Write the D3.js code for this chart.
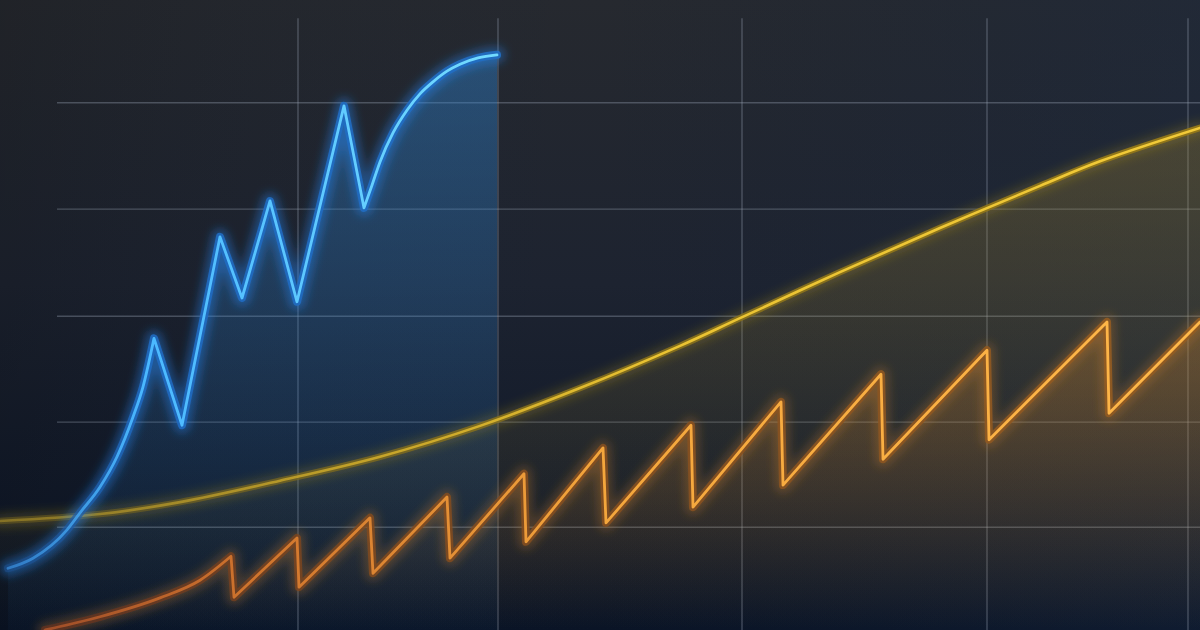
<!DOCTYPE html>
<html>
<head>
<meta charset="utf-8">
<script src="https://cdn.jsdelivr.net/npm/d3@7"></script>
<style>
  html, body { margin: 0; padding: 0; background: #1a1f28; }
  svg { display: block; }
</style>
</head>
<body>
<svg id="chart" width="1200" height="630"></svg>
<script>
// ---- data (x: 0..120 units, y: 0..100 units) ----
const blueX = [0.8, 3.3, 6.7, 8.0, 10.0, 11.7, 13.3, 14.3, 15.4, 18.2, 22.0, 24.2, 27.0, 29.7, 34.4, 36.4, 37.2, 38.0, 39.3, 40.7, 42.0, 43.3, 44.7, 46.0, 47.8, 49.7];
const blueY = [9.8, 11.4, 15.9, 18.6, 22.7, 27.5, 33.8, 38.6, 46.3, 32.5, 62.4, 52.7, 68.1, 52.1, 83.2, 67.0, 70.6, 74.3, 78.9, 82.5, 85.1, 87.0, 88.7, 89.8, 90.8, 91.3];
// indices where the blue line has sharp corners (zig-zag part)
const blueSharp = [8, 15];

const yellowX = [0, 10, 18, 28, 38, 48, 58, 68, 74, 84, 94, 104, 110, 120];
const yellowY = [17.3, 18.4, 20.3, 23.7, 27.5, 32.4, 38.4, 45.1, 49.5, 56.8, 63.8, 70.5, 74.4, 79.7];

const orangeX = [4.5, 10, 16, 20, 23.1, 23.4, 29.7, 29.9, 37.0, 37.3, 44.7, 45.0, 52.4, 52.6, 60.3, 60.6, 69.1, 69.3, 78.1, 78.3, 88.1, 88.3, 98.7, 98.9, 110.7, 110.9, 120];
const orangeY = [0, 2.1, 5.1, 7.9, 11.7, 5.2, 14.6, 6.8, 17.8, 9.0, 21.1, 11.4, 24.8, 14.0, 28.9, 17.0, 32.5, 19.5, 36.2, 23.0, 40.6, 27.1, 44.4, 30.2, 48.9, 34.4, 48.9];
const orangeSharp = [4, 26];

const gridX = [29.8, 49.8, 74.2, 98.7, 118.8];
const gridY = [83.7, 66.8, 49.8, 33.0, 16.3];

// ---- setup ----
const W = 1200, H = 630;
const svg = d3.select("#chart");
const x = d3.scaleLinear().domain([0, 120]).range([0, W]);
const y = d3.scaleLinear().domain([0, 100]).range([H, 0]);

const zip = (xs, ys) => xs.map((v, i) => ({x: v, y: ys[i]}));
const blue = zip(blueX, blueY), yellow = zip(yellowX, yellowY), orange = zip(orangeX, orangeY);

const defs = svg.append("defs");

const bg = defs.append("linearGradient").attr("id", "bg").attr("x1", 0).attr("y1", 0).attr("x2", 0).attr("y2", 1);
bg.append("stop").attr("offset", "0%").attr("stop-color", "#26292f");
bg.append("stop").attr("offset", "45%").attr("stop-color", "#1d2330");
bg.append("stop").attr("offset", "100%").attr("stop-color", "#0a1426");
const bg2 = defs.append("linearGradient").attr("id", "bg2").attr("x1", 0).attr("y1", 0).attr("x2", 1).attr("y2", 0);
bg2.append("stop").attr("offset", "0%").attr("stop-color", "#000000").attr("stop-opacity", 0.15);
bg2.append("stop").attr("offset", "50%").attr("stop-color", "#16243a").attr("stop-opacity", 0.0);
bg2.append("stop").attr("offset", "100%").attr("stop-color", "#1a2a44").attr("stop-opacity", 0.35);

function vgrad(id, color, top, bottom, y1, y2) {
  const g = defs.append("linearGradient").attr("id", id).attr("gradientUnits", "userSpaceOnUse")
    .attr("x1", 0).attr("x2", 0).attr("y1", y1).attr("y2", y2);
  g.append("stop").attr("offset", "0%").attr("stop-color", color).attr("stop-opacity", top);
  g.append("stop").attr("offset", "100%").attr("stop-color", color).attr("stop-opacity", bottom);
}
vgrad("blueArea", "#2f86d6", 0.42, 0.03, 50, 630);
vgrad("yellowArea", "#b8952e", 0.28, 0.0, 120, 630);
vgrad("orangeArea", "#d98a2c", 0.32, 0.0, 320, 630);

function hgrad(id, stops) {
  const g = defs.append("linearGradient").attr("id", id).attr("gradientUnits", "userSpaceOnUse")
    .attr("x1", 0).attr("x2", W).attr("y1", 0).attr("y2", 0);
  stops.forEach(s => g.append("stop").attr("offset", s[0]).attr("stop-color", s[1]).attr("stop-opacity", s[2]));
}
hgrad("blueInner", [["0%", "#3a8fe0", 0.65], ["12%", "#4ab8ff", 1], ["40%", "#72daff", 1], ["100%", "#72daff", 1]]);
hgrad("blueOuter", [["0%", "#1b4f8e", 0.5], ["12%", "#1f6ac0", 0.9], ["100%", "#2476cc", 0.9]]);
hgrad("yellowInner", [["0%", "#b89a2a", 0.5], ["30%", "#d2ad2a", 0.85], ["55%", "#eac332", 1], ["100%", "#f2ca38", 1]]);
hgrad("yellowOuter", [["0%", "#6e5e1e", 0.5], ["40%", "#86701c", 0.85], ["100%", "#947818", 0.95]]);
hgrad("orangeInner", [["0%", "#b0502a", 0.7], ["20%", "#d8782e", 0.9], ["50%", "#f4a63c", 1], ["100%", "#ffb84a", 1]]);
hgrad("orangeOuter", [["0%", "#6a2f1c", 0.6], ["30%", "#80491e", 0.85], ["100%", "#925c22", 0.95]]);

const f = defs.append("filter").attr("id", "glow").attr("x", "-20%").attr("y", "-20%").attr("width", "140%").attr("height", "140%");
f.append("feGaussianBlur").attr("stdDeviation", 5);

svg.append("rect").attr("width", W).attr("height", H).attr("fill", "url(#bg)");
svg.append("rect").attr("width", W).attr("height", H).attr("fill", "url(#bg2)");

const grid = svg.append("g").attr("stroke", "#9aa6b8").attr("stroke-opacity", 0.36).attr("stroke-width", 1.4);
grid.selectAll("line.v").data(gridX).join("line").attr("class", "v")
  .attr("x1", d => x(d)).attr("x2", d => x(d)).attr("y1", y(97.1)).attr("y2", H);
grid.selectAll("line.h").data(gridY).join("line").attr("class", "h")
  .attr("x1", x(5.7)).attr("x2", W).attr("y1", d => y(d)).attr("y2", d => y(d));

const smoothGen = d3.line().x(d => x(d.x)).y(d => y(d.y)).curve(d3.curveMonotoneX);
const linGen = d3.line().x(d => x(d.x)).y(d => y(d.y)).curve(d3.curveLinear);
function mixedPath(data, sharp) {
  const [a, b] = sharp;
  let p = "";
  if (a > 0) p += smoothGen(data.slice(0, a + 1));
  const mid = linGen(data.slice(a, b + 1));
  p += p ? mid.replace(/^M/, "L") : mid;
  if (b < data.length - 1) p += smoothGen(data.slice(b)).replace(/^M/, "L");
  return p;
}
function closeArea(p, data) {
  return p + `L${x(data[data.length - 1].x)},${H}L${x(data[0].x)},${H}Z`;
}

const bluePath = mixedPath(blue, blueSharp);
const orangePath = mixedPath(orange, orangeSharp);
const yellowPath = d3.line().x(d => x(d.x)).y(d => y(d.y)).curve(d3.curveCatmullRom.alpha(0.5))(yellow);

svg.append("path").attr("d", closeArea(yellowPath, yellow)).attr("fill", "url(#yellowArea)");
svg.append("path").attr("d", closeArea(orangePath, orange)).attr("fill", "url(#orangeArea)");
svg.append("path").attr("d", closeArea(bluePath, blue)).attr("fill", "url(#blueArea)");

function drawLine(d, glowColor, outer, inner, outerW, innerW, glowOp) {
  const g = svg.append("g").attr("fill", "none").attr("stroke-linejoin", "round").attr("stroke-linecap", "round");
  g.append("path").attr("d", d).attr("stroke", glowColor).attr("stroke-width", outerW + 8)
    .attr("stroke-opacity", glowOp).attr("filter", "url(#glow)");
  g.append("path").attr("d", d).attr("stroke", outer).attr("stroke-width", outerW);
  g.append("path").attr("d", d).attr("stroke", inner).attr("stroke-width", innerW);
}

drawLine(yellowPath, "#a88a20", "url(#yellowOuter)", "url(#yellowInner)", 6.5, 2.6, 0.25);
drawLine(orangePath, "#c07a2a", "url(#orangeOuter)", "url(#orangeInner)", 8, 2.8, 0.3);
drawLine(bluePath, "#2a8cff", "url(#blueOuter)", "url(#blueInner)", 8, 2.8, 0.4);
</script>
</body>
</html>
